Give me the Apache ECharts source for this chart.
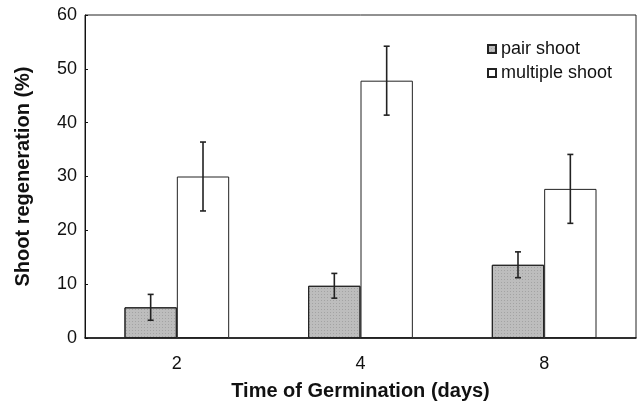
<!DOCTYPE html>
<html>
<head>
<meta charset="utf-8">
<script src="https://cdn.jsdelivr.net/npm/echarts@6/dist/echarts.min.js"></script>
<style>
  html, body { margin: 0; padding: 0; background: #fff; }
  #chart { width: 641px; height: 402px; }
</style>
</head>
<body>
<div id="chart"></div>
<script>
// data
var categories = ['2', '4', '8'];
var pairShoot = [5.7, 9.7, 13.6];
var pairErr = [2.4, 2.3, 2.4];
var multipleShoot = [30, 47.8, 27.7];
var multipleErr = [6.4, 6.4, 6.4];
var yTicks = [0, 10, 20, 30, 40, 50, 60];

var gapRatio = 0.43;

// error bars, offset to sit on the centre of each bar
function errorBars(values, errs, side) {
  return function (params, api) {
    var i = api.value(0);
    var band = api.size([1, 0])[0];
    var barW = band * (1 - gapRatio) / 2;
    var cx = api.coord([i, 0])[0] + side * barW / 2;
    var top = api.coord([i, values[i] + errs[i]])[1];
    var bot = api.coord([i, values[i] - errs[i]])[1];
    var cap = 3;
    var style = { stroke: '#222', lineWidth: 1.6 };
    return {
      type: 'group',
      children: [
        { type: 'line', shape: { x1: cx, y1: top, x2: cx, y2: bot }, style: style },
        { type: 'line', shape: { x1: cx - cap, y1: top, x2: cx + cap, y2: top }, style: style },
        { type: 'line', shape: { x1: cx - cap, y1: bot, x2: cx + cap, y2: bot }, style: style }
      ]
    };
  };
}

var chart = echarts.init(document.getElementById('chart'));
var option = {
  animation: false,
  grid: {
    left: 85, right: 5, top: 15, bottom: 64,
    outerBoundsMode: 'none',
    containLabel: false,
    show: true, borderColor: '#222', borderWidth: 1
  },
  legend: {
    orient: 'vertical',
    left: 482, top: 35,
    icon: 'rect',
    itemWidth: 8, itemHeight: 8, itemGap: 6,
    textStyle: { fontFamily: 'Liberation Sans', fontSize: 18, color: '#111' },
    data: ['pair shoot', 'multiple shoot']
  },
  xAxis: {
    type: 'category',
    data: categories,
    name: 'Time of Germination (days)',
    nameLocation: 'middle',
    nameGap: 43,
    nameTextStyle: { fontFamily: 'Liberation Sans', fontWeight: 'bold', fontSize: 20, color: '#111' },
    axisLine: { lineStyle: { color: '#111', width: 1.5 } },
    axisTick: { inside: true, length: 4, lineStyle: { color: '#111' } },
    axisLabel: { margin: 17, fontFamily: 'Liberation Sans', fontSize: 18, color: '#111' }
  },
  yAxis: {
    type: 'value',
    min: yTicks[0], max: yTicks[yTicks.length - 1], interval: 10,
    name: 'Shoot regeneration (%)',
    nameLocation: 'middle',
    nameGap: 52,
    nameTextStyle: { fontFamily: 'Liberation Sans', fontWeight: 'bold', fontSize: 20, color: '#111' },
    axisLine: { show: true, lineStyle: { color: '#111', width: 1 } },
    axisTick: { show: true, inside: true, length: 3, lineStyle: { color: '#111' } },
    splitLine: { show: false },
    axisLabel: { margin: 8, fontFamily: 'Liberation Sans', fontSize: 18, color: '#111' }
  },
  series: [
    {
      name: 'pair shoot',
      type: 'bar',
      data: pairShoot,
      barGap: '0%',
      barCategoryGap: (gapRatio * 100) + '%',
      itemStyle: {
        color: '#bdbdbd',
        borderColor: '#222',
        borderWidth: 1,
        decal: {
          symbol: 'rect',
          symbolSize: 0.7,
          color: 'rgba(50,50,50,0.5)',
          dashArrayX: [1, 2],
          dashArrayY: [1, 2],
          rotation: 0
        }
      }
    },
    {
      name: 'multiple shoot',
      type: 'bar',
      data: multipleShoot,
      itemStyle: { color: '#fff', borderColor: '#222', borderWidth: 1 }
    },
    {
      type: 'custom',
      renderItem: errorBars(pairShoot, pairErr, -1),
      data: categories.map(function (c, i) { return [i, pairShoot[i]]; }),
      z: 10
    },
    {
      type: 'custom',
      renderItem: errorBars(multipleShoot, multipleErr, 1),
      data: categories.map(function (c, i) { return [i, multipleShoot[i]]; }),
      z: 10
    }
  ]
};
chart.setOption(option);
</script>
</body>
</html>
